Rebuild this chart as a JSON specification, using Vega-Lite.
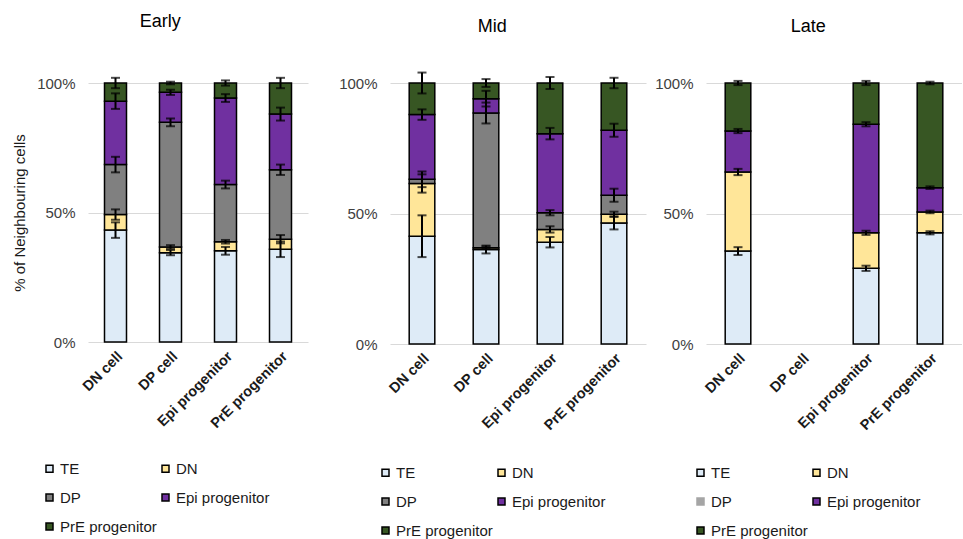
{
  "$schema": "https://vega.github.io/schema/vega-lite/v6.json",
  "padding": {"left": 12, "top": 13, "right": 0, "bottom": 0},
  "background": "white",
  "config": {
    "font": "Liberation Sans",
    "view": {"stroke": null},
    "title": {"fontSize": 18, "fontWeight": "normal", "color": "#000000", "frame": "bounds", "anchor": "middle"},
    "axisY": {"grid": true, "gridColor": "#d9d9d9", "domain": false, "ticks": false, "labelColor": "#404040", "labelFontSize": 15, "labelPadding": 13},
    "axisX": {"labelAngle": -45, "labelFontWeight": "bold", "labelFontSize": 14.5, "labelColor": "#1a1a1a", "domain": false, "ticks": false, "title": null, "labelPadding": 7},
    "legend": {"orient": "none", "columns": 2, "symbolType": "square", "symbolSize": 49, "symbolStrokeColor": "black", "symbolStrokeWidth": 1.5, "labelFontSize": 15, "labelColor": "#1a1a1a", "labelOffset": 3, "rowPadding": 13, "columnPadding": 1, "gridAlign": "all", "title": null}
  },
  "datasets": {
    "d": [
      {"p": "Early", "c": "DN cell", "s": "TE", "k": 1, "v": 43.2, "e": 3},
      {"p": "Early", "c": "DN cell", "s": "DN", "k": 2, "v": 6.0, "e": 2},
      {"p": "Early", "c": "DN cell", "s": "DP", "k": 3, "v": 19.3, "e": 3},
      {"p": "Early", "c": "DN cell", "s": "Epi progenitor", "k": 4, "v": 24.5, "e": 3},
      {"p": "Early", "c": "DN cell", "s": "PrE progenitor", "k": 5, "v": 7.0, "e": 2},
      {"p": "Early", "c": "DP cell", "s": "TE", "k": 1, "v": 34.5, "e": 1},
      {"p": "Early", "c": "DP cell", "s": "DN", "k": 2, "v": 2.2, "e": 0.7},
      {"p": "Early", "c": "DP cell", "s": "DP", "k": 3, "v": 48.1, "e": 1.5},
      {"p": "Early", "c": "DP cell", "s": "Epi progenitor", "k": 4, "v": 11.6, "e": 1},
      {"p": "Early", "c": "DP cell", "s": "PrE progenitor", "k": 5, "v": 3.6, "e": 0.5},
      {"p": "Early", "c": "Epi progenitor", "s": "TE", "k": 1, "v": 35.2, "e": 1.5},
      {"p": "Early", "c": "Epi progenitor", "s": "DN", "k": 2, "v": 3.5, "e": 0.7},
      {"p": "Early", "c": "Epi progenitor", "s": "DP", "k": 3, "v": 22.1, "e": 1.5},
      {"p": "Early", "c": "Epi progenitor", "s": "Epi progenitor", "k": 4, "v": 33.4, "e": 1.5},
      {"p": "Early", "c": "Epi progenitor", "s": "PrE progenitor", "k": 5, "v": 5.8, "e": 1},
      {"p": "Early", "c": "PrE progenitor", "s": "TE", "k": 1, "v": 35.8, "e": 3},
      {"p": "Early", "c": "PrE progenitor", "s": "DN", "k": 2, "v": 3.9, "e": 1.6},
      {"p": "Early", "c": "PrE progenitor", "s": "DP", "k": 3, "v": 26.8, "e": 2},
      {"p": "Early", "c": "PrE progenitor", "s": "Epi progenitor", "k": 4, "v": 21.5, "e": 2.5},
      {"p": "Early", "c": "PrE progenitor", "s": "PrE progenitor", "k": 5, "v": 12.0, "e": 2},
      {"p": "Mid", "c": "DN cell", "s": "TE", "k": 1, "v": 41.3, "e": 8},
      {"p": "Mid", "c": "DN cell", "s": "DN", "k": 2, "v": 20.2, "e": 3.5},
      {"p": "Mid", "c": "DN cell", "s": "DP", "k": 3, "v": 1.6, "e": 3},
      {"p": "Mid", "c": "DN cell", "s": "Epi progenitor", "k": 4, "v": 24.8, "e": 2},
      {"p": "Mid", "c": "DN cell", "s": "PrE progenitor", "k": 5, "v": 12.1, "e": 4},
      {"p": "Mid", "c": "DP cell", "s": "TE", "k": 1, "v": 36.2, "e": 1.5},
      {"p": "Mid", "c": "DP cell", "s": "DN", "k": 2, "v": 0.7, "e": 0.5},
      {"p": "Mid", "c": "DP cell", "s": "DP", "k": 3, "v": 51.6, "e": 4},
      {"p": "Mid", "c": "DP cell", "s": "Epi progenitor", "k": 4, "v": 5.5, "e": 3},
      {"p": "Mid", "c": "DP cell", "s": "PrE progenitor", "k": 5, "v": 6.0, "e": 1.5},
      {"p": "Mid", "c": "Epi progenitor", "s": "TE", "k": 1, "v": 39.0, "e": 2},
      {"p": "Mid", "c": "Epi progenitor", "s": "DN", "k": 2, "v": 4.9, "e": 1.2},
      {"p": "Mid", "c": "Epi progenitor", "s": "DP", "k": 3, "v": 6.4, "e": 1},
      {"p": "Mid", "c": "Epi progenitor", "s": "Epi progenitor", "k": 4, "v": 30.3, "e": 2.2},
      {"p": "Mid", "c": "Epi progenitor", "s": "PrE progenitor", "k": 5, "v": 19.4, "e": 2.3},
      {"p": "Mid", "c": "PrE progenitor", "s": "TE", "k": 1, "v": 46.4, "e": 2.5},
      {"p": "Mid", "c": "PrE progenitor", "s": "DN", "k": 2, "v": 3.3, "e": 1},
      {"p": "Mid", "c": "PrE progenitor", "s": "DP", "k": 3, "v": 7.3, "e": 2.5},
      {"p": "Mid", "c": "PrE progenitor", "s": "Epi progenitor", "k": 4, "v": 24.9, "e": 2.5},
      {"p": "Mid", "c": "PrE progenitor", "s": "PrE progenitor", "k": 5, "v": 18.1, "e": 2},
      {"p": "Late", "c": "DN cell", "s": "TE", "k": 1, "v": 35.6, "e": 1.5},
      {"p": "Late", "c": "DN cell", "s": "DN", "k": 2, "v": 30.3, "e": 1.2},
      {"p": "Late", "c": "DN cell", "s": "Epi progenitor", "k": 4, "v": 15.7, "e": 0.8},
      {"p": "Late", "c": "DN cell", "s": "PrE progenitor", "k": 5, "v": 18.4, "e": 0.8},
      {"p": "Late", "c": "Epi progenitor", "s": "TE", "k": 1, "v": 29.0, "e": 1},
      {"p": "Late", "c": "Epi progenitor", "s": "DN", "k": 2, "v": 13.6, "e": 0.8},
      {"p": "Late", "c": "Epi progenitor", "s": "Epi progenitor", "k": 4, "v": 41.6, "e": 0.8},
      {"p": "Late", "c": "Epi progenitor", "s": "PrE progenitor", "k": 5, "v": 15.8, "e": 0.8},
      {"p": "Late", "c": "PrE progenitor", "s": "TE", "k": 1, "v": 42.6, "e": 0.6},
      {"p": "Late", "c": "PrE progenitor", "s": "DN", "k": 2, "v": 8.0, "e": 0.5},
      {"p": "Late", "c": "PrE progenitor", "s": "Epi progenitor", "k": 4, "v": 9.3, "e": 0.5},
      {"p": "Late", "c": "PrE progenitor", "s": "PrE progenitor", "k": 5, "v": 40.1, "e": 0.5}
    ]
  },
  "resolve": {"scale": {"color": "independent", "y": "independent", "x": "independent"}, "legend": {"color": "independent"}},
  "spacing": 30,
  "hconcat": [
    {
      "width": 220, "height": 259,
      "title": {"text": "Early", "offset": 45},
      "data": {"name": "d"},
      "transform": [
        {"filter": "datum.p === 'Early'"},
        {"stack": "v", "groupby": ["c"], "sort": [{"field": "k", "order": "ascending"}], "as": ["y0", "y1"]}
      ],
      "encoding": {
        "x": {"field": "c", "type": "nominal", "scale": {"domain": ["DN cell", "DP cell", "Epi progenitor", "PrE progenitor"], "paddingInner": 0.6, "paddingOuter": 0.3}}
      },
      "layer": [
        {
          "mark": {"type": "bar", "stroke": "black", "strokeWidth": 1.5},
          "encoding": {
            "y": {"field": "y0", "type": "quantitative", "title": "% of Neighbouring cells", "scale": {"domain": [0, 100], "nice": false}, "axis": {"values": [0, 50, 100], "labelExpr": "datum.value + '%'", "titleFontSize": 15, "titleFontWeight": "normal", "titleColor": "#1a1a1a", "titlePadding": 9}},
            "y2": {"field": "y1"},
            "color": {"field": "s", "type": "nominal", "scale": {"domain": ["TE", "DP", "PrE progenitor", "DN", "Epi progenitor"], "range": ["#deebf7", "#808080", "#375623", "#ffe699", "#7030a0"]}, "legend": {"legendX": -46, "legendY": 378}}
          }
        },
        {
          "mark": {"type": "errorbar", "ticks": true, "size": 9, "thickness": 2, "color": "black"},
          "encoding": {
            "y": {"field": "y1", "type": "quantitative", "title": "% of Neighbouring cells"},
            "yError": {"field": "e"}
          }
        }
      ]
    },
    {
      "spacing": 8,
      "resolve": {"scale": {"color": "independent", "y": "independent", "x": "independent"}, "legend": {"color": "independent"}},
      "hconcat": [
        {
          "width": 256, "height": 261,
          "title": {"text": "Mid", "offset": 36},
          "data": {"name": "d"},
          "transform": [
            {"filter": "datum.p === 'Mid'"},
            {"stack": "v", "groupby": ["c"], "sort": [{"field": "k", "order": "ascending"}], "as": ["y0", "y1"]}
          ],
          "encoding": {
            "x": {"field": "c", "type": "nominal", "scale": {"domain": ["DN cell", "DP cell", "Epi progenitor", "PrE progenitor"], "paddingInner": 0.6, "paddingOuter": 0.3}}
          },
          "layer": [
            {
              "mark": {"type": "bar", "stroke": "black", "strokeWidth": 1.5},
              "encoding": {
                "y": {"field": "y0", "type": "quantitative", "title": null, "scale": {"domain": [0, 100], "nice": false}, "axis": {"values": [0, 50, 100], "labelExpr": "datum.value + '%'", "title": null}},
                "y2": {"field": "y1"},
                "color": {"field": "s", "type": "nominal", "scale": {"domain": ["TE", "DP", "PrE progenitor", "DN", "Epi progenitor"], "range": ["#deebf7", "#808080", "#375623", "#ffe699", "#7030a0"]}, "legend": {"legendX": -12, "legendY": 382}}
              }
            },
            {
              "mark": {"type": "errorbar", "ticks": true, "size": 9, "thickness": 2, "color": "black"},
              "encoding": {
                "y": {"field": "y1", "type": "quantitative", "title": null},
                "yError": {"field": "e"}
              }
            }
          ]
        },
        {
          "width": 256, "height": 261,
          "title": {"text": "Late", "offset": 40},
          "data": {"name": "d"},
          "transform": [
            {"filter": "datum.p === 'Late'"},
            {"stack": "v", "groupby": ["c"], "sort": [{"field": "k", "order": "ascending"}], "as": ["y0", "y1"]}
          ],
          "encoding": {
            "x": {"field": "c", "type": "nominal", "scale": {"domain": ["DN cell", "DP cell", "Epi progenitor", "PrE progenitor"], "paddingInner": 0.6, "paddingOuter": 0.3}}
          },
          "layer": [
            {
              "mark": {"type": "bar", "stroke": "black", "strokeWidth": 1.5},
              "encoding": {
                "y": {"field": "y0", "type": "quantitative", "title": null, "scale": {"domain": [0, 100], "nice": false}, "axis": {"values": [0, 50, 100], "labelExpr": "datum.value + '%'", "title": null}},
                "y2": {"field": "y1"},
                "color": {"field": "s", "type": "nominal", "scale": {"domain": ["TE", "DP", "PrE progenitor", "DN", "Epi progenitor"], "range": ["#deebf7", "#a5a5a5", "#375623", "#ffe699", "#7030a0"]}, "legend": {"legendX": -13, "legendY": 382, "encode": {"symbols": {"update": {"stroke": {"signal": "datum.value === 'DP' ? '#a5a5a5' : 'black'"}}}}}}
              }
            },
            {
              "mark": {"type": "errorbar", "ticks": true, "size": 9, "thickness": 2, "color": "black"},
              "encoding": {
                "y": {"field": "y1", "type": "quantitative", "title": null},
                "yError": {"field": "e"}
              }
            }
          ]
        }
      ]
    }
  ]
}
